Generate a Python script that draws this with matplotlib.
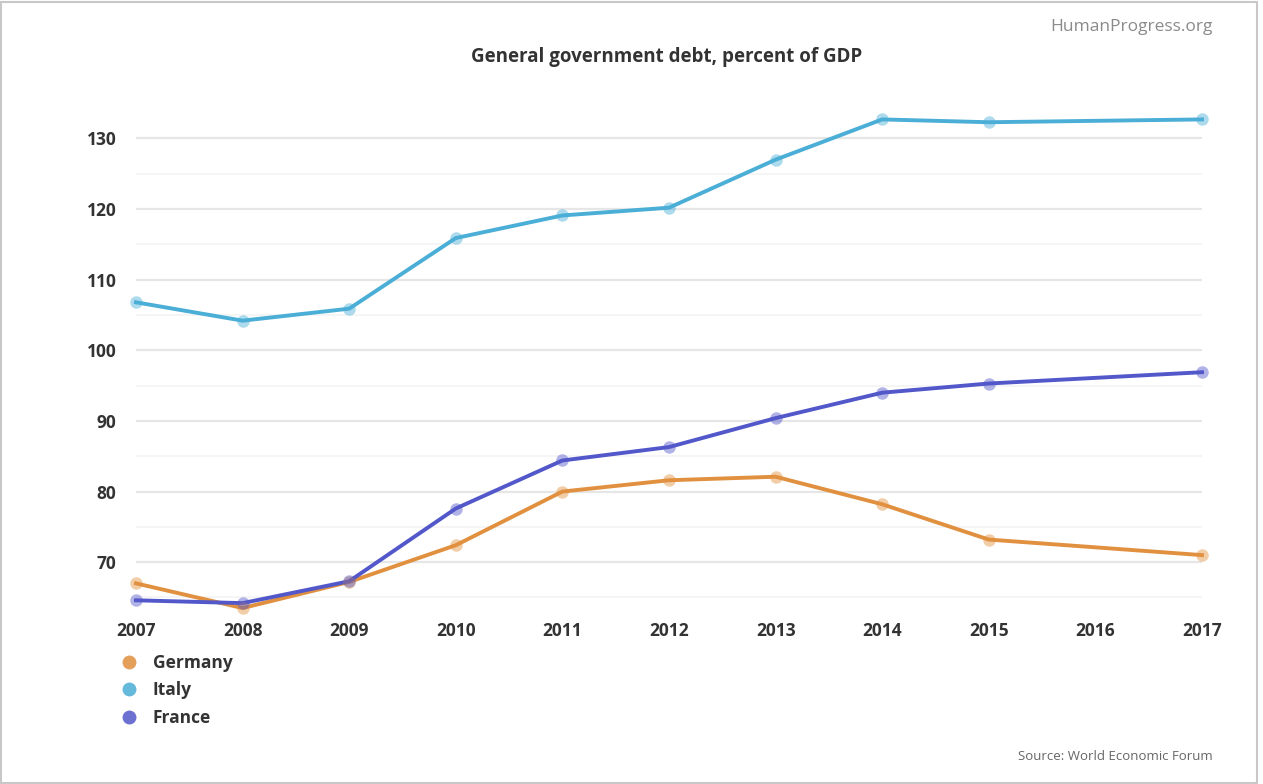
import matplotlib.pyplot as plt
from matplotlib.lines import Line2D
from matplotlib.patches import Rectangle

plt.rcParams['font.family'] = ['Open Sans', 'DejaVu Sans']

# 2016 has no data point in the source; lines join 2015 -> 2017 directly
years = [2007, 2008, 2009, 2010, 2011, 2012, 2013, 2014, 2015, 2017]
tick_years = list(range(2007, 2018))
germany = [67.0, 63.5, 67.2, 72.4, 80.0, 81.6, 82.1, 78.2, 73.2, 71.0]
italy = [106.8, 104.2, 105.9, 115.9, 119.1, 120.2, 127.0, 132.7, 132.3, 132.7]
france = [64.6, 64.2, 67.3, 77.6, 84.4, 86.3, 90.4, 94.0, 95.3, 96.9]
y_ticks = [70, 80, 90, 100, 110, 120, 130]

series = [
    ('Germany', germany, '#e0903e'),
    ('Italy', italy, '#4aaed6'),
    ('France', france, '#5257c9'),
]

fig = plt.figure(figsize=(12.63, 7.84), dpi=100)
fig.patches.append(Rectangle((0.001, 0.001), 0.994, 0.996, transform=fig.transFigure,
                             fill=False, edgecolor='#c8c8c8', linewidth=1.5))

ax = fig.add_axes([136 / 1263, 0.219, (1202 - 136) / 1263, 0.653])

for name, vals, color in series:
    ax.plot(years, vals, color=color, linewidth=2.8, zorder=3, clip_on=False)
    ax.plot(years, vals, linestyle='none', marker='o', markersize=9,
            color=color, alpha=0.45, markeredgewidth=0, zorder=4, clip_on=False)

ax.set_xlim(2007, 2017)
ax.set_ylim(62.9, 135.4)
ax.set_xticks(tick_years)
ax.set_xticklabels([str(y) for y in tick_years])
ax.set_yticks(y_ticks)
ax.set_yticks([65, 75, 85, 95, 105, 115, 125], minor=True)
ax.grid(axis='y', which='major', color='#e6e6e6', linewidth=1.6, zorder=0)
ax.grid(axis='y', which='minor', color='#f3f3f3', linewidth=1.2, zorder=0)
ax.tick_params(axis='both', which='both', length=0, labelsize=12.5, colors='#333333')
ax.tick_params(axis='y', pad=14)
ax.tick_params(axis='x', pad=7)
for lbl in ax.get_xticklabels() + ax.get_yticklabels():
    lbl.set_fontweight('bold')
for s in ax.spines.values():
    s.set_visible(False)

handles = [Line2D([], [], linestyle='none', marker='o', markersize=10, color=c, alpha=0.85,
                  markeredgewidth=0) for _, _, c in series]
fig.legend(handles, [n for n, _, _ in series], loc='upper left',
           bbox_to_anchor=(112 / 1263, 1 - 647 / 784), frameon=False,
           prop={'weight': 'bold', 'size': 12.5}, labelcolor='#333333',
           handletextpad=0.75, labelspacing=0.55, handlelength=1.2, borderaxespad=0)

fig.text(667 / 1263, 1 - 57 / 784, 'General government debt, percent of GDP', ha='center', va='center',
         fontsize=13.5, fontweight='bold', color='#333333')
fig.text(1213 / 1263, 1 - 27 / 784, 'HumanProgress.org', ha='right', va='center',
         fontsize=12.5, color='#8a8a8a')
fig.text(1213 / 1263, 1 - 757 / 784, 'Source: World Economic Forum', ha='right', va='center',
         fontsize=9.5, color='#666666')

fig.savefig('out.png', dpi=100)
